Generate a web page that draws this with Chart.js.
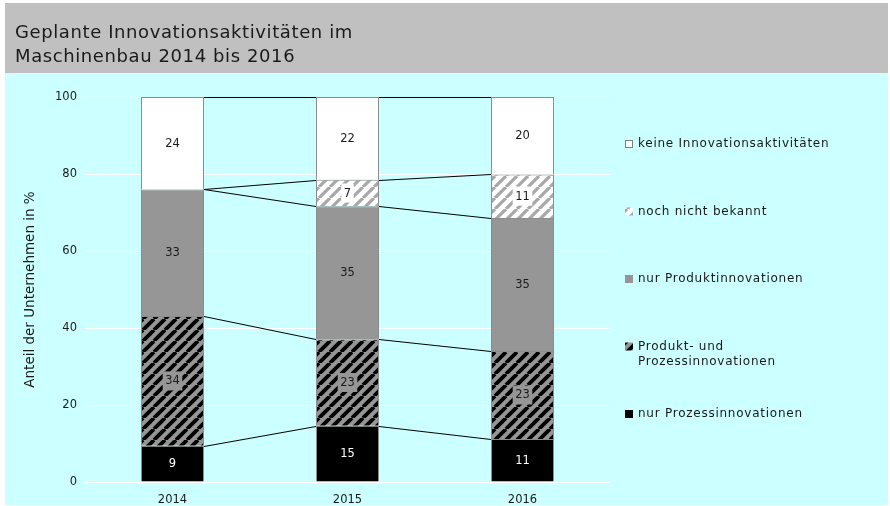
<!DOCTYPE html>
<html><head><meta charset="utf-8">
<script src="https://cdn.jsdelivr.net/npm/chart.js@4/dist/chart.umd.min.js"></script>
<style>html,body{margin:0;padding:0;background:#fff}canvas{display:block}</style>
</head><body>
<canvas id="c" width="890" height="506"></canvas>
<script>
// ---- data ----
const years = ['2014', '2015', '2016'];
const nurProzess        = [9.4, 14.6, 11.2];
const produktUndProzess = [33.7, 22.5, 22.8];
const nurProdukt        = [32.9, 34.5, 34.6];
const nochNichtBekannt  = [0, 6.9, 11.3];
const keineInnovation   = [24.0, 21.5, 20.1];
const seriesNames = [
  'nur Prozessinnovationen',
  ['Produkt- und', 'Prozessinnovationen'],
  'nur Produktinnovationen',
  'noch nicht bekannt',
  'keine Innovationsaktivitäten'
];
const yTicks = [0, 20, 40, 60, 80, 100];
const titleLines = ['Geplante Innovationsaktivitäten im', 'Maschinenbau 2014 bis 2016'];
const yAxisTitle = 'Anteil der Unternehmen in %';

// ---- styling ----
const FONT = 'DejaVu Sans';
const TXT = '#1a1a1a';
const GREY = '#969696';
const canvas = document.getElementById('c');
const ctx0 = canvas.getContext('2d');

function stripePattern(bg, fg, size, lw) {
  const c = document.createElement('canvas');
  c.width = size; c.height = size;
  const x = c.getContext('2d');
  x.fillStyle = bg; x.fillRect(0, 0, size, size);
  x.strokeStyle = fg; x.lineWidth = lw;
  x.beginPath();
  for (const o of [-size, 0, size]) { x.moveTo(o, size); x.lineTo(o + size, 0); }
  x.stroke();
  return ctx0.createPattern(c, 'repeat');
}
const patProdProz = stripePattern(GREY, '#000', 11, 3.8);
const patNoch = stripePattern('#ffffff', '#a8a8a8', 11, 3.2);

const fills = ['#000000', patProdProz, GREY, patNoch, '#ffffff'];
const labelBox = [null, GREY, null, '#ffffff', null];
const labelColor = ['#ffffff', TXT, TXT, TXT, TXT];
const seriesData = [nurProzess, produktUndProzess, nurProdukt, nochNichtBekannt, keineInnovation];

const datasets = seriesData.map((d, i) => ({
  label: Array.isArray(seriesNames[i]) ? seriesNames[i].join(' ') : seriesNames[i],
  data: d,
  backgroundColor: fills[i],
  borderColor: '#8c8c8c',
  borderWidth: {top: 1, left: 1, right: 1, bottom: 0},
  borderSkipped: false,
  categoryPercentage: 1,
  barPercentage: 0.36
}));

const backgroundPlugin = {
  id: 'bg',
  beforeDraw(chart) {
    const c = chart.ctx;
    c.save();
    c.fillStyle = '#ffffff'; c.fillRect(0, 0, chart.width, chart.height);
    c.fillStyle = '#ccffff'; c.fillRect(5, 73, 883, 432);
    c.fillStyle = '#c0c0c0'; c.fillRect(5, 3, 883, 70);
    c.fillStyle = TXT;
    c.font = '18px "' + FONT + '"';
    c.letterSpacing = '0.6px';
    c.textBaseline = 'alphabetic';
    c.textAlign = 'left';
    c.fillText(titleLines[0], 15, 38);
    c.fillText(titleLines[1], 15, 62);
    c.restore();
  }
};

const seriesLinesPlugin = {
  id: 'seriesLines',
  afterDatasetsDraw(chart) {
    const c = chart.ctx;
    c.save();
    c.strokeStyle = '#000'; c.lineWidth = 1;
    c.beginPath();
    const metas = chart.getSortedVisibleDatasetMetas();
    for (let i = 0; i < years.length - 1; i++) {
      for (const m of metas) {
        const a = m.data[i].getProps(['x', 'y', 'width'], true);
        const b = m.data[i + 1].getProps(['x', 'y', 'width'], true);
        c.moveTo(a.x + a.width / 2, Math.round(a.y) + 0.5);
        c.lineTo(b.x - b.width / 2, Math.round(b.y) + 0.5);
      }
    }
    c.stroke();
    // data labels
    c.font = '11.5px "' + FONT + '"';
    c.textAlign = 'center';
    c.textBaseline = 'middle';
    metas.forEach(m => {
      const di = m.index;
      m.data.forEach((el, i) => {
        const v = seriesData[di][i];
        if (!(v > 0)) return;
        const p = el.getProps(['x', 'y', 'base'], true);
        const cy = (p.y + p.base) / 2;
        const t = String(Math.round(v));
        if (labelBox[di]) {
          const w = c.measureText(t).width;
          c.fillStyle = labelBox[di];
          c.fillRect(p.x - w / 2 - 2.5, cy - 9.5, w + 5, 19);
        }
        c.fillStyle = labelColor[di];
        c.fillText(t, p.x, cy + 0.5);
      });
    });
    c.restore();
  }
};

const legendPlugin = {
  id: 'customLegend',
  afterDraw(chart) {
    const c = chart.ctx;
    c.save();
    const order = [4, 3, 2, 1, 0];
    const ys = [144, 211.5, 279, 346.5, 414];
    c.font = '12px "' + FONT + '"';
    c.letterSpacing = '0.75px';
    c.textBaseline = 'middle';
    c.textAlign = 'left';
    order.forEach((di, k) => {
      const y = ys[k];
      c.fillStyle = fills[di];
      c.fillRect(625, y - 4, 8, 8);
      if (di === 4) { c.strokeStyle = '#808080'; c.lineWidth = 1; c.strokeRect(625.5, y - 3.5, 7, 7); }
      c.fillStyle = TXT;
      const lines = Array.isArray(seriesNames[di]) ? seriesNames[di] : [seriesNames[di]];
      lines.forEach((ln, j) => c.fillText(ln, 638, y + j * 15));
    });
    c.restore();
  }
};

new Chart(canvas, {
  type: 'bar',
  data: { labels: years, datasets },
  options: {
    responsive: false,
    animation: false,
    devicePixelRatio: 1,
    layout: { padding: { left: 5, right: 280, top: 97, bottom: 0 } },
    plugins: { legend: { display: false }, tooltip: { enabled: false }, title: { display: false } },
    scales: {
      x: {
        stacked: true,
        grid: { display: false },
        border: { display: false },
        ticks: { font: { family: FONT, size: 11.5 }, color: TXT, padding: 3 },
        afterFit(s) { s.height = 24; }
      },
      y: {
        stacked: true,
        min: 0, max: 100,
        afterBuildTicks(s) { s.ticks = yTicks.map(v => ({ value: v })); },
        grid: { color: '#ffffff', lineWidth: 1, drawTicks: false },
        border: { display: false },
        ticks: { font: { family: FONT, size: 11.5 }, color: TXT, padding: 8 },
        title: { display: true, text: yAxisTitle, font: { family: FONT, size: 13.5 }, color: TXT, padding: { top: 17, bottom: 0 } },
        afterFit(s) { s.width = 80; }
      }
    }
  },
  plugins: [backgroundPlugin, seriesLinesPlugin, legendPlugin]
});
</script>
</body></html>
